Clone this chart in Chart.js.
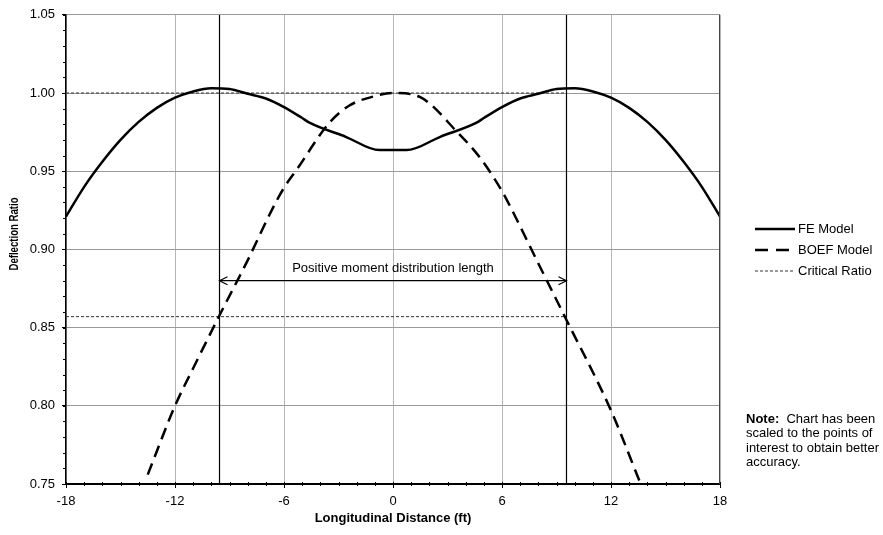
<!DOCTYPE html>
<html>
<head>
<meta charset="utf-8">
<script src="https://cdn.jsdelivr.net/npm/chart.js@4/dist/chart.umd.min.js"></script>
<style>
  body { margin: 0; background: #fff; }
  #wrap { width: 883px; height: 535px; }
</style>
</head>
<body>
<div id="wrap"><canvas id="deflectionChart"></canvas></div>
<script>
// values
const feX = [-18, -17, -16, -15, -14, -13, -12, -11, -10, -9, -8, -7, -6, -5, -4.6, -2.6, -0.75,
             0.75, 2.6, 4.6, 5, 6, 7, 8, 9, 10, 11, 12, 13, 14, 15, 16, 17, 18];
const feY = [0.921, 0.940, 0.956, 0.970, 0.9815, 0.9905, 0.997, 1.001, 1.003, 1.0025, 0.9995, 0.9965, 0.991, 0.984, 0.981, 0.972, 0.9635,
             0.9635, 0.972, 0.981, 0.984, 0.991, 0.9965, 0.9995, 1.0025, 1.003, 1.001, 0.997, 0.9905, 0.9815, 0.970, 0.956, 0.940, 0.921];

const boefX = [-13.5, -12, -11, -9.5, -8, -6.7, -6, -5.3, -3.5, -2.4, -1, 0, 1.5, 3.5, 4.8, 6, 6.44, 8, 9.5, 12, 13.6];
const boefY = [0.756, 0.800, 0.824, 0.859, 0.893, 0.9245, 0.9394, 0.951, 0.981, 0.992, 0.998, 1.000, 0.9973, 0.9755, 0.9585, 0.9373, 0.9277, 0.891, 0.856, 0.797, 0.751];

const criticalRatios = [1.000, 0.857];
const criticalEndX = [-18, 9.55];
const boundaryX = [-9.55, 9.55];
const arrowY = 0.880;

const xTicks = [-18, -12, -6, 0, 6, 12, 18];
const yTicks = [0.75, 0.80, 0.85, 0.90, 0.95, 1.00, 1.05];

const FONT = "'Liberation Sans', Arial, sans-serif";
Chart.defaults.font.family = FONT;
Chart.defaults.font.size = 13;
Chart.defaults.color = '#000';

const toPoints = (xs, ys) => xs.map((x, i) => ({ x: x, y: ys[i] }));

const datasets = [
    {
        label: 'FE Model',
        data: toPoints(feX, feY),
        borderColor: '#000',
        borderWidth: 2.5,
        cubicInterpolationMode: 'monotone',
        inLegend: true
    },
    {
        label: 'BOEF Model',
        data: toPoints(boefX, boefY),
        borderColor: '#000',
        borderWidth: 2.5,
        borderDash: [12, 7],
        cubicInterpolationMode: 'monotone',
        inLegend: true
    }
];

criticalRatios.forEach((r, i) => {
    datasets.push({
        label: 'Critical Ratio',
        data: criticalEndX.map(x => ({ x: x, y: r })),
        borderColor: '#333',
        borderWidth: 1,
        borderDash: [3, 2],
        tension: 0,
        inLegend: i === 0
    });
});

boundaryX.forEach(x => {
    datasets.push({
        label: 'boundary',
        data: [{ x: x, y: yTicks[0] }, { x: x, y: yTicks[yTicks.length - 1] }],
        borderColor: '#000',
        borderWidth: 1.2,
        tension: 0
    });
});

datasets.push({
    label: 'arrow',
    data: boundaryX.map(x => ({ x: x, y: arrowY })),
    borderColor: '#000',
    borderWidth: 1.2,
    tension: 0,
    isArrow: true
});

const extras = {
    id: 'extras',
    afterDraw(chart) {
        const c = chart.ctx;
        const xs = chart.scales.x, ys = chart.scales.y;
        const area = chart.chartArea;
        c.save();

        // minor ticks
        c.strokeStyle = '#000';
        c.lineWidth = 1;
        c.beginPath();
        for (let v = 75; v <= 105; v++) {
            const py = Math.round(ys.getPixelForValue(v / 100)) + 0.5;
            c.moveTo(area.left - 3, py);
            c.lineTo(area.left, py);
        }
        for (let v = -18; v <= 18; v++) {
            const px = Math.round(xs.getPixelForValue(v)) + 0.5;
            c.moveTo(px, area.bottom - 2);
            c.lineTo(px, area.bottom + 2);
        }
        c.stroke();

        // right frame edge
        c.strokeStyle = '#444';
        c.beginPath();
        c.moveTo(area.right - 0.5, area.top);
        c.lineTo(area.right - 0.5, area.bottom);
        c.stroke();

        // y axis title (narrow, as in the original)
        c.save();
        c.translate(14, 234);
        c.rotate(-Math.PI / 2);
        c.font = 'bold 13px ' + FONT;
        const tw = c.measureText('Deflection Ratio').width;
        c.scale(73 / tw, 1);
        c.fillStyle = '#000';
        c.textAlign = 'center';
        c.textBaseline = 'middle';
        c.fillText('Deflection Ratio', 0, 0);
        c.restore();

        // arrow heads and label
        chart.data.datasets.forEach((ds, i) => {
            if (!ds.isArrow) return;
            const pts = chart.getDatasetMeta(i).data;
            const a = pts[0], b = pts[pts.length - 1];
            c.strokeStyle = '#000';
            c.lineWidth = 1.2;
            c.beginPath();
            c.moveTo(a.x + 8, a.y - 4); c.lineTo(a.x, a.y); c.lineTo(a.x + 8, a.y + 4);
            c.moveTo(b.x - 8, b.y - 4); c.lineTo(b.x, b.y); c.lineTo(b.x - 8, b.y + 4);
            c.stroke();
            c.fillStyle = '#000';
            c.font = '13px ' + FONT;
            c.textAlign = 'center';
            c.textBaseline = 'middle';
            c.fillText('Positive moment distribution length', (a.x + b.x) / 2, a.y - 12);
        });

        // legend
        const lx = 755, lw = 40;
        let ly = 229;
        c.font = '13px ' + FONT;
        c.textAlign = 'left';
        c.textBaseline = 'middle';
        chart.data.datasets.forEach(ds => {
            if (!ds.inLegend) return;
            c.strokeStyle = ds.borderColor;
            c.lineWidth = ds.borderWidth;
            c.setLineDash(ds.borderDash ? (ds.borderWidth > 2 ? [13, 8] : [3, 2]) : []);
            c.beginPath();
            c.moveTo(lx, ly);
            c.lineTo(lx + lw, ly);
            c.stroke();
            c.setLineDash([]);
            c.fillStyle = '#000';
            c.fillText(ds.label, lx + lw + 3, ly);
            ly += 21;
        });

        // note
        const noteLines = ['Chart has been', 'scaled to the points of', 'interest to obtain better', 'accuracy.'];
        let ny = 419;
        c.font = 'bold 13px ' + FONT;
        c.fillText('Note:', 746, ny);
        const noteW = c.measureText('Note:  ').width;
        c.font = '13px ' + FONT;
        noteLines.forEach((t, i) => {
            c.fillText(t, i === 0 ? 746 + noteW : 746, ny);
            ny += 14.5;
        });

        c.restore();
    }
};

new Chart(document.getElementById('deflectionChart'), {
    type: 'line',
    data: { datasets: datasets },
    options: {
        responsive: true,
        maintainAspectRatio: false,
        animation: false,
        layout: { padding: { top: 13, right: 163, left: 0, bottom: 0 } },
        elements: { point: { radius: 0, hoverRadius: 0 }, line: { fill: false } },
        plugins: { legend: { display: false }, tooltip: { enabled: false } },
        scales: {
            x: {
                type: 'linear',
                min: xTicks[0],
                max: xTicks[xTicks.length - 1],
                afterBuildTicks: s => { s.ticks = xTicks.map(v => ({ value: v })); },
                afterFit: s => { s.height = 51; },
                ticks: { padding: 6, maxRotation: 0, callback: v => String(v) },
                grid: { color: '#b5b5b5', tickColor: '#000', tickLength: 4 },
                border: { color: '#000', width: 2 },
                title: {
                    display: true,
                    text: 'Longitudinal Distance (ft)',
                    font: { weight: 'bold', size: 13 },
                    padding: { top: 0, bottom: 9 }
                }
            },
            y: {
                min: yTicks[0],
                max: yTicks[yTicks.length - 1],
                afterBuildTicks: s => { s.ticks = yTicks.map(v => ({ value: v })); },
                afterFit: s => { s.width = 66; },
                ticks: { padding: 7, callback: v => Number(v).toFixed(2) },
                grid: { color: '#9a9a9a', tickColor: '#000', tickLength: 4 },
                border: { color: '#000', width: 1.5 }
            }
        }
    },
    plugins: [extras]
});
</script>
</body>
</html>
